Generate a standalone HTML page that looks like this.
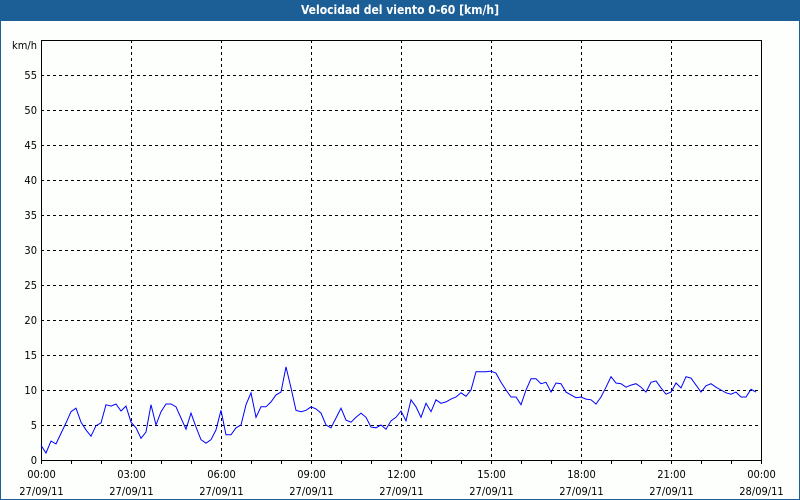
<!DOCTYPE html>
<html><head><meta charset="utf-8"><style>
body{margin:0;background:#fff}
#w{position:relative;width:798px;height:499px;border:1px solid #1c5f96;border-top:none;background:#fdfffd;overflow:hidden}
#t{position:absolute;left:0;top:0;width:798px;height:21px;background:#1c5f96;color:#fff;font:bold 12px "DejaVu Sans Condensed","Liberation Sans",sans-serif;text-align:center;line-height:21px}
svg text{font-family:"DejaVu Sans Condensed","Liberation Sans",sans-serif;font-size:11px;fill:#000}
</style></head><body>
<div id="w">
<div id="t">Velocidad del viento 0-60 [km/h]</div>
<svg id="s" width="798" height="499" style="position:absolute;left:0;top:0"></svg>
</div>
<script>
const yTicks=[0,5,10,15,20,25,30,35,40,45,50,55];
const xHours=[0,3,6,9,12,15,18,21,24];
const xTimeLabels=["00:00","03:00","06:00","09:00","12:00","15:00","18:00","21:00","00:00"];
const xDateLabels=["27/09/11","27/09/11","27/09/11","27/09/11","27/09/11","27/09/11","27/09/11","27/09/11","28/09/11"];
const speed=[2.1,1.0,2.7,2.3,3.8,5.3,6.9,7.4,5.4,4.3,3.4,4.9,5.3,7.9,7.7,8.0,7.0,7.7,5.4,4.6,3.1,4.0,7.9,5.0,6.9,8.0,8.0,7.6,6.0,4.4,6.7,4.7,2.9,2.4,2.9,4.3,7.1,3.6,3.6,4.6,5.0,7.9,9.6,6.1,7.6,7.6,8.3,9.3,9.7,13.3,10.3,7.1,6.9,7.1,7.6,7.3,6.7,5.0,4.6,6.0,7.4,5.7,5.4,6.1,6.7,6.1,4.7,4.6,5.0,4.4,5.6,6.1,7.0,5.6,8.6,7.6,6.1,8.1,6.9,8.6,8.1,8.3,8.7,9.0,9.6,9.1,10,12.6,12.6,12.6,12.7,12.4,11.1,10,9.0,9.0,7.9,10,11.6,11.6,10.9,11.1,9.7,11,10.9,9.7,9.3,8.9,9.0,8.7,8.6,8.0,9.0,10.4,11.9,11,10.9,10.4,10.7,10.9,10.4,9.7,11.1,11.3,10.3,9.4,9.7,11,10.3,11.9,11.7,10.7,9.7,10.6,10.9,10.4,10,9.6,9.4,9.7,9.0,9.0,10.1,9.7];
const stepMinutes=10;
const X0=40,X1=760,Y0=460,YT=40,YMAX=60;
const sx=h=>X0+(X1-X0)*h/24, sy=v=>Y0-(Y0-YT)*v/YMAX;
const s=document.getElementById('s'),NS='http://www.w3.org/2000/svg';
function mk(t,a,txt){const e=document.createElementNS(NS,t);for(const k in a)e.setAttribute(k,a[k]);if(txt!=null)e.textContent=txt;s.appendChild(e);return e;}
yTicks.forEach(v=>{if(v>0){const g=mk('line',{x1:X0,x2:X1,y1:sy(v)+.5,y2:sy(v)+.5,stroke:'#000','stroke-dasharray':'3,3'});

}
const t=mk('text',{x:36,y:sy(v)+4,'text-anchor':'end'},v);

});
const u=mk('text',{x:36,y:sy(60)+9,'text-anchor':'end'},'km/h');


xHours.forEach((h,i)=>{const x=Math.round(sx(h))+.5;
if(i>0&&i<xHours.length-1){const g=mk('line',{x1:x,x2:x,y1:YT,y2:Y0,stroke:'#000','stroke-dasharray':'3,3'});

}
const a=mk('text',{x:x,y:478,'text-anchor':'middle'},xTimeLabels[i]);


const b=mk('text',{x:x,y:495,'text-anchor':'middle'},xDateLabels[i]);

});
for(let h=0;h<=24;h++){const x=Math.round(sx(h))+.5;const t=mk('line',{x1:x,x2:x,y1:Y0,y2:Y0+4,stroke:'#000'});

}
const f=mk('rect',{x:X0+.5,y:YT+.5,width:X1-X0,height:Y0-YT,fill:'none',stroke:'#000','stroke-width':1});


const pts=speed.map((v,i)=>sx(i*stepMinutes/60).toFixed(1)+','+sy(v).toFixed(1)).join(' ');
const p=mk('polyline',{points:pts,fill:'none',stroke:'#0000ff','stroke-width':1});


</script>
</body></html>
